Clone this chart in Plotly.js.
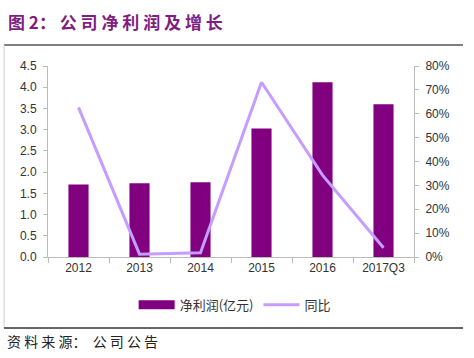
<!DOCTYPE html>
<html><head><meta charset="utf-8">
<script src="https://cdn.plot.ly/plotly-3.0.1.min.js"></script>
<style>html,body{margin:0;padding:0;background:#fff}#chart{width:474px;height:358px}</style>
</head><body><div id="chart"></div>
<script>
const categories = ['2012','2013','2014','2015','2016','2017Q3'];
const netProfit = [1.71, 1.74, 1.76, 3.03, 4.12, 3.60];
const yoyGrowth = [0.627, 0.012, 0.018, 0.732, 0.343, 0.039];
const leftTicks = [0,0.5,1,1.5,2,2.5,3,3.5,4,4.5];
const rightTicks = [0,0.1,0.2,0.3,0.4,0.5,0.6,0.7,0.8];
const seriesNames = ['净利润(亿元)', '同比'];

const cjk = '"Noto Sans CJK SC", "Liberation Sans", sans-serif';
const tickFont = {family: '"Liberation Sans", Arial, sans-serif', size: 12, color: '#333'};
const barColor = '#800080';
const lineColor = '#C59CFF';

const traces = [
  {type:'bar', x:categories, y:netProfit, name:seriesNames[0], marker:{color:barColor}, width:0.33, yaxis:'y', showlegend:false},
  {type:'scatter', mode:'lines', x:[null], y:[null], name:seriesNames[0], line:{color:barColor, width:9}, yaxis:'y', hoverinfo:'skip'},
  {type:'scatter', mode:'lines', x:categories, y:yoyGrowth, name:seriesNames[1], line:{color:lineColor, width:3}, yaxis:'y2'}
];

const layout = {
  width:474, height:358,
  margin:{l:48, r:60, t:66, b:101},
  paper_bgcolor:'#fff', plot_bgcolor:'#fff',
  showlegend:true,
  legend:{orientation:'h', x:0.51, xanchor:'center', y:-0.25, yanchor:'middle', font:{family:cjk, size:13, color:'#333'}, itemwidth:36, traceorder:'normal'},
  xaxis:{type:'category', showline:true, linecolor:'#bbb', linewidth:1, ticks:'outside', tickson:'boundaries', ticklen:5, tickcolor:'#bbb', tickfont:tickFont, showgrid:false, zeroline:false},
  yaxis:{range:[0,4.5], tickvals:leftTicks, ticktext:leftTicks.map(v=>v.toFixed(1)), showline:true, linecolor:'#bbb', ticks:'outside', ticklen:4, tickcolor:'#bbb', ticklabelstandoff:4, tickfont:tickFont, showgrid:false, zeroline:false},
  yaxis2:{range:[0,0.8], overlaying:'y', side:'right', tickvals:rightTicks, ticktext:rightTicks.map(v=>Math.round(v*100)+'%'), showline:true, linecolor:'#bbb', ticks:'outside', ticklen:4, tickcolor:'#bbb', ticklabelstandoff:4, tickfont:tickFont, showgrid:false, zeroline:false},
  shapes:[
    {type:'line', xref:'paper', yref:'paper', x0:-0.120, x1:1.134, y0:1.11, y1:1.11, line:{color:'#555', width:1.5}},
    {type:'line', xref:'paper', yref:'paper', x0:-0.120, x1:-0.120, y0:1.11, y1:-0.372, line:{color:'#ccc', width:1}},
    {type:'line', xref:'paper', yref:'paper', x0:-0.120, x1:1.134, y0:-0.372, y1:-0.372, line:{color:'#666', width:2}}
  ],
  annotations:[
    {xref:'paper', yref:'paper', x:-0.114, y:(257-22)/191, xanchor:'left', yanchor:'middle', showarrow:false,
     text:'<b>图&nbsp;2： 公 司 净 利 润 及 增 长</b>', font:{family:cjk, size:17, color:'#7E1E80'}},
    {xref:'paper', yref:'paper', x:-0.117, y:(257-341)/191, xanchor:'left', yanchor:'middle', showarrow:false,
     text:'资 料 来 源：  公 司 公 告', font:{family:cjk, size:14, color:'#222'}}
  ]
};
Plotly.newPlot('chart', traces, layout, {displayModeBar:false, staticPlot:true});
</script></body></html>
